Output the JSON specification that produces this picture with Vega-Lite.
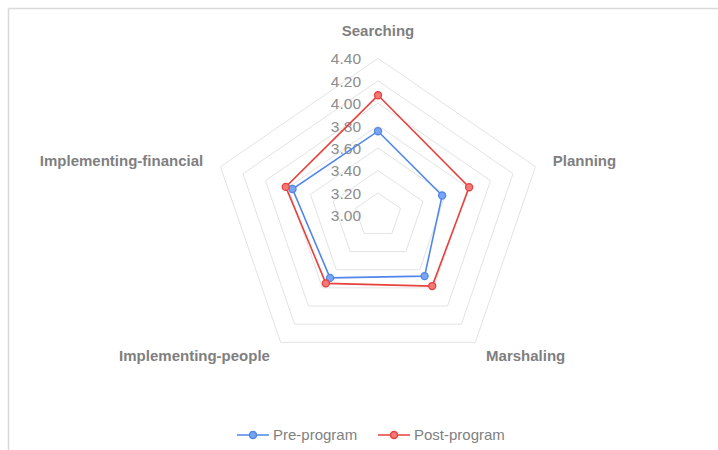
{
  "$schema": "https://vega.github.io/schema/vega-lite/v6.json",
  "width": 710,
  "height": 442,
  "autosize": {"type": "none"},
  "padding": {"left": 8, "top": 8, "right": 0, "bottom": 0},
  "background": "white",
  "config": {
    "view": {"stroke": null},
    "axis": {"labels": false, "ticks": false, "grid": false, "domainColor": "#d9d9d9", "domainWidth": 1.5, "title": null},
    "text": {"font": "Liberation Sans"}
  },
  "datasets": {
    "scores": [
      {"axis": "Searching", "series": "Pre-program", "value": 3.75},
      {"axis": "Planning", "series": "Pre-program", "value": 3.57},
      {"axis": "Marshaling", "series": "Pre-program", "value": 3.67},
      {"axis": "Implementing-people", "series": "Pre-program", "value": 3.69},
      {"axis": "Implementing-financial", "series": "Pre-program", "value": 3.76},
      {"axis": "Searching", "series": "Post-program", "value": 4.07},
      {"axis": "Planning", "series": "Post-program", "value": 3.81},
      {"axis": "Marshaling", "series": "Post-program", "value": 3.78},
      {"axis": "Implementing-people", "series": "Post-program", "value": 3.75},
      {"axis": "Implementing-financial", "series": "Post-program", "value": 3.82}
    ],
    "levels": [
      {"level": 3.0}, {"level": 3.2}, {"level": 3.4}, {"level": 3.6},
      {"level": 3.8}, {"level": 4.0}, {"level": 4.2}, {"level": 4.4}
    ],
    "dims": [
      {"axis": "Searching"},
      {"axis": "Planning"},
      {"axis": "Marshaling"},
      {"axis": "Implementing-people"},
      {"axis": "Implementing-financial"}
    ]
  },
  "layer": [
    {
      "data": {"name": "levels"},
      "transform": [
        {"filter": "datum.level > 3.01"},
        {"calculate": "['Searching','Planning','Marshaling','Implementing-people','Implementing-financial']", "as": "dimlist"},
        {"flatten": ["dimlist"], "as": ["axis"]},
        {"calculate": "indexof(['Searching','Planning','Marshaling','Implementing-people','Implementing-financial'], datum.axis)", "as": "idx"},
        {"calculate": "(datum.level - 3) / 1.4", "as": "r"},
        {"calculate": "datum.r * sin(datum.idx * 2 * PI / 5)", "as": "px"},
        {"calculate": "datum.r * cos(datum.idx * 2 * PI / 5)", "as": "py"}
      ],
      "mark": {"type": "line", "interpolate": "linear-closed", "stroke": "#e3e3e3", "strokeWidth": 1},
      "encoding": {
        "x": {"field": "px", "type": "quantitative", "scale": {"domain": [-2.2343, 2.0531], "nice": false, "zero": false}, "axis": {"orient": "top"}},
        "y": {"field": "py", "type": "quantitative", "scale": {"domain": [-1.4949, 1.3204], "nice": false, "zero": false}, "axis": {"orient": "left"}},
        "detail": {"field": "level", "type": "nominal"},
        "order": {"field": "idx", "type": "quantitative"}
      }
    },
    {
      "data": {"name": "levels"},
      "transform": [
        {"calculate": "(datum.level - 3) / 1.4", "as": "py"},
        {"calculate": "0", "as": "px"}
      ],
      "mark": {"type": "text", "align": "right", "baseline": "middle", "dx": -17, "dy": 1, "fontSize": 15.5, "color": "#8c8c8c"},
      "encoding": {
        "x": {"field": "px", "type": "quantitative"},
        "y": {"field": "py", "type": "quantitative"},
        "text": {"field": "level", "type": "quantitative", "format": ".2f"}
      }
    },
    {
      "data": {"name": "dims"},
      "transform": [
        {"calculate": "indexof(['Searching','Planning','Marshaling','Implementing-people','Implementing-financial'], datum.axis)", "as": "idx"},
        {"calculate": "1.11 * sin(datum.idx * 2 * PI / 5)", "as": "px"},
        {"calculate": "1.11 * cos(datum.idx * 2 * PI / 5)", "as": "py"},
        {"filter": "datum.idx == 0"}
      ],
      "mark": {"type": "text", "align": "center", "baseline": "middle", "dy": -10, "fontSize": 15, "fontWeight": "bold", "color": "#7f7f7f"},
      "encoding": {
        "x": {"field": "px", "type": "quantitative"},
        "y": {"field": "py", "type": "quantitative"},
        "text": {"field": "axis", "type": "nominal"}
      }
    },
    {
      "data": {"name": "dims"},
      "transform": [
        {"calculate": "indexof(['Searching','Planning','Marshaling','Implementing-people','Implementing-financial'], datum.axis)", "as": "idx"},
        {"calculate": "1.11 * sin(datum.idx * 2 * PI / 5)", "as": "px"},
        {"calculate": "1.11 * cos(datum.idx * 2 * PI / 5)", "as": "py"},
        {"filter": "datum.idx == 1 || datum.idx == 2"}
      ],
      "mark": {"type": "text", "align": "left", "baseline": "middle", "fontSize": 15, "fontWeight": "bold", "color": "#7f7f7f"},
      "encoding": {
        "x": {"field": "px", "type": "quantitative"},
        "y": {"field": "py", "type": "quantitative"},
        "text": {"field": "axis", "type": "nominal"}
      }
    },
    {
      "data": {"name": "dims"},
      "transform": [
        {"calculate": "indexof(['Searching','Planning','Marshaling','Implementing-people','Implementing-financial'], datum.axis)", "as": "idx"},
        {"calculate": "1.11 * sin(datum.idx * 2 * PI / 5)", "as": "px"},
        {"calculate": "1.11 * cos(datum.idx * 2 * PI / 5)", "as": "py"},
        {"filter": "datum.idx == 3 || datum.idx == 4"}
      ],
      "mark": {"type": "text", "align": "right", "baseline": "middle", "fontSize": 15, "fontWeight": "bold", "color": "#7f7f7f"},
      "encoding": {
        "x": {"field": "px", "type": "quantitative"},
        "y": {"field": "py", "type": "quantitative"},
        "text": {"field": "axis", "type": "nominal"}
      }
    },
    {
      "data": {"name": "scores"},
      "transform": [
        {"calculate": "indexof(['Searching','Planning','Marshaling','Implementing-people','Implementing-financial'], datum.axis)", "as": "idx"},
        {"calculate": "(datum.value - 3) / 1.4", "as": "r"},
        {"calculate": "datum.r * sin(datum.idx * 2 * PI / 5)", "as": "px"},
        {"calculate": "datum.r * cos(datum.idx * 2 * PI / 5)", "as": "py"}
      ],
      "layer": [
        {
          "mark": {"type": "line", "interpolate": "linear-closed", "strokeWidth": 1.6},
          "encoding": {
            "x": {"field": "px", "type": "quantitative"},
            "y": {"field": "py", "type": "quantitative"},
            "order": {"field": "idx", "type": "quantitative"},
            "stroke": {
              "field": "series", "type": "nominal",
              "scale": {"domain": ["Pre-program", "Post-program"], "range": ["#4f86ec", "#e8403c"]},
              "legend": {
                "orient": "none", "legendX": 228, "legendY": 410, "direction": "horizontal", "title": null,
                "symbolType": "M-1,0H-0.22M0.22,0H1M0.22,0A0.22,0.22 0 1 1 -0.22,0A0.22,0.22 0 1 1 0.22,0",
                "symbolSize": 1024, "symbolStrokeWidth": 1.5,
                "labelFont": "Liberation Sans", "labelFontSize": 15, "labelColor": "#7f7f7f",
                "labelOffset": 3, "columnPadding": 17
              }
            }
          }
        },
        {
          "mark": {"type": "point", "filled": true, "size": 50, "strokeWidth": 1.3, "opacity": 1},
          "encoding": {
            "x": {"field": "px", "type": "quantitative"},
            "y": {"field": "py", "type": "quantitative"},
            "stroke": {"field": "series", "type": "nominal"},
            "fill": {
              "field": "series", "type": "nominal",
              "scale": {"domain": ["Pre-program", "Post-program"], "range": ["#7aa5f3", "#f07a76"]},
              "legend": {
                "orient": "none", "legendX": 228, "legendY": 410, "direction": "horizontal", "title": null,
                "symbolType": "M-1,0H-0.22M0.22,0H1M0.22,0A0.22,0.22 0 1 1 -0.22,0A0.22,0.22 0 1 1 0.22,0",
                "symbolSize": 1024, "symbolStrokeWidth": 1.5,
                "labelFont": "Liberation Sans", "labelFontSize": 15, "labelColor": "#7f7f7f",
                "labelOffset": 3, "columnPadding": 17
              }
            }
          }
        }
      ]
    }
  ]
}
